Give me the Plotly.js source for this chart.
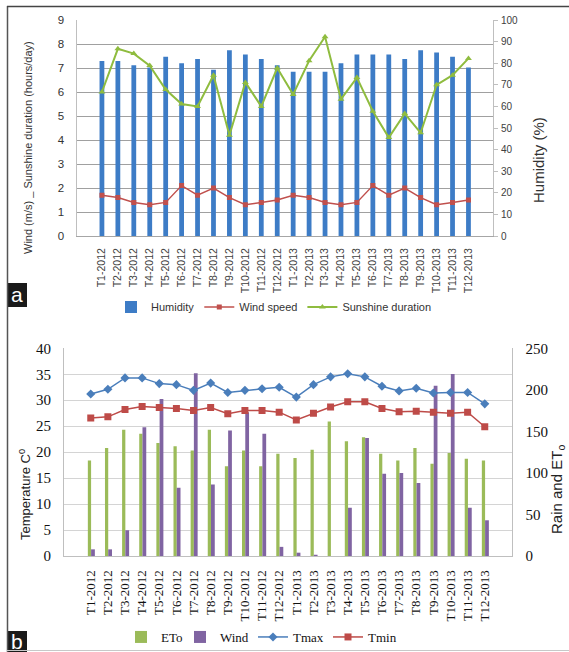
<!DOCTYPE html>
<html>
<head>
<meta charset="utf-8">
<script src="https://cdn.plot.ly/plotly-3.0.1.min.js"></script>
<style>
html,body{margin:0;padding:0;background:#fff;}
#chart{width:569px;height:652px;}
</style>
</head>
<body>
<div id="chart"></div>
<script>
// ---------- DATA ----------
const months = ['T1-2012','T2-2012','T3-2012','T4-2012','T5-2012','T6-2012','T7-2012','T8-2012','T9-2012','T10-2012','T11-2012','T12-2012',
                'T1-2013','T2-2013','T3-2013','T4-2013','T5-2013','T6-2013','T7-2013','T8-2013','T9-2013','T10-2013','T11-2013','T12-2013'];

// Panel a
const humidity = [81, 81, 79, 78, 83, 80, 82, 77, 86, 84, 82, 79,
                  76, 76, 76, 80, 84, 84, 84, 82, 86, 85, 83, 78];
const windSpeed = [1.7, 1.6, 1.4, 1.3, 1.4, 2.1, 1.7, 2.0, 1.6, 1.3, 1.4, 1.5,
                   1.7, 1.6, 1.4, 1.3, 1.4, 2.1, 1.7, 2.0, 1.6, 1.3, 1.4, 1.5];
const sunshine = [6.0, 7.8, 7.6, 7.1, 6.1, 5.5, 5.4, 6.7, 4.2, 6.4, 5.4, 7.0,
                  5.9, 7.3, 8.3, 5.7, 6.6, 5.2, 4.1, 5.1, 4.3, 6.3, 6.7, 7.4];

// Panel b
const eto = [115, 130, 152, 147, 136, 132, 127, 152, 108, 127, 108, 123,
             118, 128, 162, 138, 143, 123, 115, 130, 111, 124, 117, 115];
const windB = [8, 8, 31, 155, 189, 82, 220, 86, 151, 173, 147, 11,
               4, 1.5, 0, 58, 142, 99, 100, 88, 205, 219, 58, 43];
const tmax = [31.2, 32.1, 34.3, 34.3, 33.2, 33.0, 31.9, 33.3, 31.5, 31.9, 32.2, 32.5,
              30.6, 33.0, 34.5, 35.1, 34.5, 32.7, 31.8, 32.3, 31.4, 31.5, 31.5, 29.3];
const tmin = [26.6, 26.8, 28.2, 28.8, 28.6, 28.4, 28.0, 28.6, 27.4, 28.0, 28.0, 27.7,
              26.2, 27.5, 28.7, 29.7, 29.7, 28.4, 27.8, 27.9, 27.7, 27.5, 27.7, 24.9];

// ---------- LAYOUT HELPERS ----------
const W = 569, H = 652;
const px = x => x / W;
const py = y => 1 - y / H;

const SANS = 'Liberation Sans, Arial, sans-serif';
const SERIF = 'Liberation Serif, Times New Roman, serif';

const traces = [
  {type:'bar', name:'Humidity', x:months, y:humidity, xaxis:'x', yaxis:'y',
   width:0.3, offset:-0.15, marker:{color:'#3d7cc6'}, legend:'legend'},
  {type:'scatter', mode:'lines+markers', name:'Wind speed', x:months, y:windSpeed, xaxis:'x', yaxis:'y2',
   line:{color:'#c0504d', width:1.5}, marker:{symbol:'square', size:5, color:'#c0504d'}, legend:'legend'},
  {type:'scatter', mode:'lines+markers', name:'Sunshine duration', x:months, y:sunshine, xaxis:'x', yaxis:'y2',
   line:{color:'#8fbc3f', width:2}, marker:{symbol:'triangle-up', size:6, color:'#8fbc3f'}, legend:'legend'},

  {type:'bar', name:'ETo', x:months, y:eto, xaxis:'x2', yaxis:'y3',
   width:0.19, offset:-0.17, marker:{color:'#9bbb59'}, legend:'legend2', legendwidth:14},
  {type:'bar', name:'Wind', x:months, y:windB, xaxis:'x2', yaxis:'y3',
   width:0.22, offset:0.02, marker:{color:'#8064a2'}, legend:'legend2', legendwidth:28},
  {type:'scatter', mode:'lines+markers', name:'Tmax', x:months, y:tmax, xaxis:'x2', yaxis:'y4',
   line:{color:'#4a7ebb', width:1.5}, marker:{symbol:'diamond', size:7, color:'#4a7ebb'}, legend:'legend2', legendwidth:30},
  {type:'scatter', mode:'lines+markers', name:'Tmin', x:months, y:tmin, xaxis:'x2', yaxis:'y4',
   line:{color:'#be4b48', width:1.5}, marker:{symbol:'square', size:7, color:'#be4b48'}, legend:'legend2', legendwidth:30}
];

const layout = {
  width: W, height: H,
  margin: {l:0, r:0, t:0, b:0, pad:0},
  paper_bgcolor: '#ffffff',
  plot_bgcolor: 'rgba(0,0,0,0)',
  barmode: 'overlay',
  showlegend: true,
  font: {family: SANS, color:'#333'},

  // ---- panel a ----
  xaxis: {domain:[px(77.4), px(493)], anchor:'y', type:'category', tickangle:-90,
          tickfont:{family:SANS, size:10.5, color:'#404040'}, showgrid:false,
          showline:true, linecolor:'#a6a6a6', ticks:'', ticklabelstandoff:7},
  yaxis: {domain:[py(236), py(20)], anchor:'x', side:'right', range:[0,100], dtick:10,
          showgrid:false, showline:true, linecolor:'#bfbfbf', ticks:'outside', ticklen:4, tickcolor:'#bfbfbf',
          tickfont:{family:SANS, size:10, color:'#404040'}, ticklabelstandoff:1, zeroline:false},
  yaxis2: {overlaying:'y', anchor:'x', side:'left', range:[0,9], dtick:1,
           showgrid:true, gridcolor:'#a0a0a0', gridwidth:1, showline:true, linecolor:'#bfbfbf', ticks:'',
           tickfont:{family:SANS, size:11.5, color:'#333'}, ticklabelstandoff:10, zeroline:false},

  // ---- panel b ----
  xaxis2: {domain:[px(64), px(511.5)], anchor:'y3', type:'category', tickangle:-90,
           tickfont:{family:SERIF, size:13, color:'#111'}, showgrid:false,
           showline:true, linecolor:'#bfbfbf', ticks:'', ticklabelstandoff:8},
  yaxis3: {domain:[py(556), py(348.3)], anchor:'x2', side:'right', range:[0,250], dtick:50,
           showgrid:false, showline:true, linecolor:'#bfbfbf', ticks:'',
           tickfont:{family:SERIF, size:15, color:'#111'}, ticklabelstandoff:10, zeroline:false},
  yaxis4: {overlaying:'y3', anchor:'x2', side:'left', range:[0,40], dtick:5,
           showgrid:true, gridcolor:'#d4d4d4', gridwidth:1, showline:true, linecolor:'#bfbfbf', ticks:'',
           tickfont:{family:SERIF, size:15, color:'#111'}, ticklabelstandoff:9, zeroline:false},

  legend: {orientation:'h', x:px(274), xanchor:'center', y:py(307), yanchor:'middle',
           font:{family:SANS, size:11, color:'#333'}, bgcolor:'rgba(0,0,0,0)', itemwidth:30, traceorder:'normal'},
  legend2: {orientation:'h', x:px(262), xanchor:'center', y:py(637), yanchor:'middle',
           font:{family:SERIF, size:13, color:'#111'}, bgcolor:'rgba(0,0,0,0)', itemwidth:30, traceorder:'normal'},

  annotations: [
    {text:'Wind (m/s) _ Sunshine duration (hours/day)', xref:'paper', yref:'paper', x:px(28), y:py(148),
     xanchor:'center', yanchor:'middle', textangle:-90, showarrow:false, font:{family:SANS, size:11, color:'#333'}},
    {text:'Humidity (%)', xref:'paper', yref:'paper', x:px(538), y:py(160),
     xanchor:'center', yanchor:'middle', textangle:-90, showarrow:false, font:{family:SANS, size:15, color:'#333'}},
    {text:'Temperature C<sup>0</sup>', xref:'paper', yref:'paper', x:px(25), y:py(495),
     xanchor:'center', yanchor:'middle', textangle:-90, showarrow:false, font:{family:SANS, size:13, color:'#222'}},
    {text:'Rain and ET<sub>o</sub>', xref:'paper', yref:'paper', x:px(557), y:py(490),
     xanchor:'center', yanchor:'middle', textangle:-90, showarrow:false, font:{family:SANS, size:15, color:'#222'}},
    {text:'a', xref:'paper', yref:'paper', x:px(17), y:py(294), xanchor:'center', yanchor:'middle', showarrow:false,
     font:{family:SANS, size:21, color:'#ffffff'}},
    {text:'b', xref:'paper', yref:'paper', x:px(17), y:py(641), xanchor:'center', yanchor:'middle', showarrow:false,
     font:{family:SANS, size:21, color:'#ffffff'}}
  ],
  shapes: [
    {type:'rect', xref:'paper', yref:'paper', x0:px(7), x1:px(27), y0:py(307), y1:py(283),
     fillcolor:'#1a1a1a', line:{width:0}, layer:'below'},
    {type:'rect', xref:'paper', yref:'paper', x0:px(7), x1:px(27), y0:py(652), y1:py(631),
     fillcolor:'#1a1a1a', line:{width:0}, layer:'below'},
    {type:'line', xref:'paper', yref:'paper', x0:px(7.5), x1:px(7.5), y0:py(6), y1:py(652),
     line:{color:'#555', width:1.5}},
    {type:'line', xref:'paper', yref:'paper', x0:px(7), x1:1, y0:py(6.5), y1:py(6.5),
     line:{color:'#444', width:1.5}},
    {type:'line', xref:'paper', yref:'paper', x0:px(7), x1:1, y0:py(650.5), y1:py(650.5),
     line:{color:'#c8c8c8', width:1}}
  ]
};

Plotly.newPlot('chart', traces, layout, {staticPlot:true, displayModeBar:false});
</script>
</body>
</html>
